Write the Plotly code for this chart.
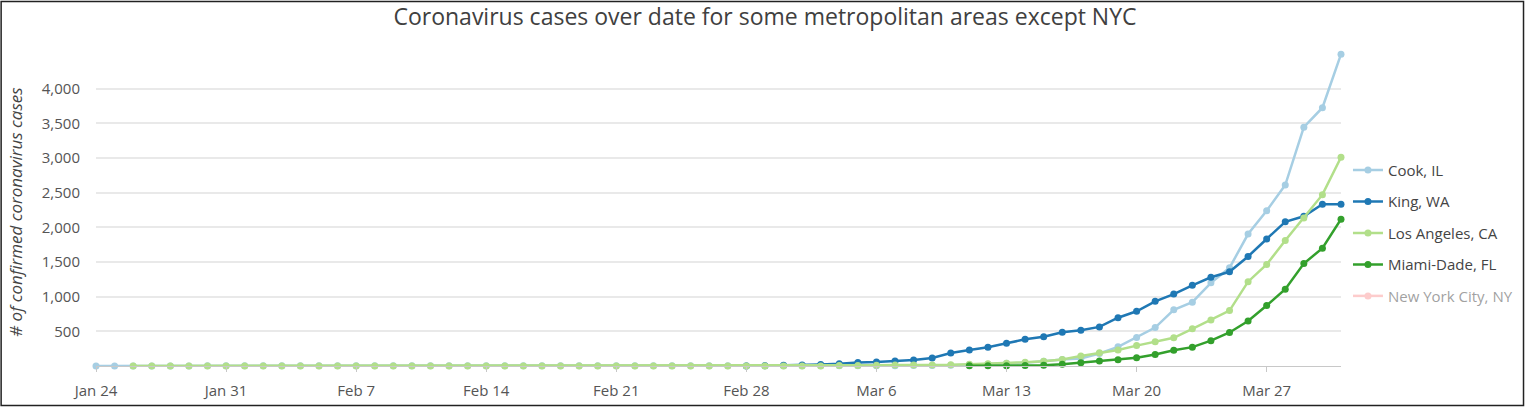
import pandas as pd
import plotly.graph_objects as go

dates = [d.strftime("%Y-%m-%d") for d in pd.date_range("2020-01-24", "2020-03-31")]

cook_il = ([1] * 6 + [2] * 30 + [3] +
           [3, 4, 4, 4, 5, 5, 5, 6, 7, 11, 17, 26, 40, 46, 68, 93, 107, 180, 276, 412,
            554, 810, 920, 1200, 1416, 1903, 2240, 2610, 3445, 3725, 4496])
king_wa = ([None] * 35 + [1, 4] +
           [10, 14, 21, 31, 51, 58, 71, 85, 116, 187, 230, 270, 327, 385, 422, 488, 515,
            564, 696, 790, 933, 1037, 1164, 1280, 1359, 1580, 1832, 2079, 2159, 2333, 2333])
los_angeles_ca = ([None] * 2 + [1] * 38 +
                  [7, 7, 11, 13, 14, 14, 17, 27, 32, 40, 53, 69, 94, 144, 190, 231, 294, 351,
                   407, 536, 662, 799, 1216, 1465, 1809, 2136, 2471, 3011])
miami_dade_fl = ([None] * 47 +
                 [2, 3, 4, 7, 12, 24, 48, 71, 90, 119, 166, 226, 272, 365, 483, 649, 872, 1108,
                  1477, 1700, 2116])
new_york_city_ny = ([None] * 37 +
                    [1, 1, 2, 2, 4, 5, 12, 14, 20, 36, 52, 95, 154, 269, 329, 463, 923, 2009,
                     3954, 5683, 8115, 9654, 12305, 14904, 20011, 23112, 25398, 29766, 32308,
                     36221, 41771])

series_names = ["Cook, IL", "King, WA", "Los Angeles, CA", "Miami-Dade, FL", "New York City, NY"]
series_values = [cook_il, king_wa, los_angeles_ca, miami_dade_fl, new_york_city_ny]
series_colors = ["#a6cee3", "#1f78b4", "#b2df8a", "#33a02c", "#fb9a99"]

x_tick_vals = ["2020-01-24", "2020-01-31", "2020-02-07", "2020-02-14", "2020-02-21",
               "2020-02-28", "2020-03-06", "2020-03-13", "2020-03-20", "2020-03-27"]
x_tick_text = ["Jan 24", "Jan 31", "Feb 7", "Feb 14", "Feb 21", "Feb 28",
               "Mar 6", "Mar 13", "Mar 20", "Mar 27"]
y_tick_vals = [500, 1000, 1500, 2000, 2500, 3000, 3500, 4000]

W, H = 1530, 412
ML, MR, MT, MB = 96, 184, 54, 41
PW, PH = W - ML - MR, H - MT - MB
FONT = "Open Sans"

fig = go.Figure()
for i, (name, vals, col) in enumerate(zip(series_names, series_values, series_colors)):
    fig.add_trace(go.Scatter(
        x=dates, y=vals, name=name, mode="lines+markers",
        line=dict(color=col, width=2.5),
        marker=dict(color=col, size=7),
        cliponaxis=False,
        legendgroup=name,
        visible="legendonly" if name.startswith("New York") else True,
    ))

fig.update_layout(
    width=W, height=H,
    margin=dict(l=ML, r=MR, t=MT, b=MB),
    paper_bgcolor="white", plot_bgcolor="white",
    font=dict(family=FONT, color="#555555", size=15),
    title=dict(text="Coronavirus cases over date for some metropolitan areas except NYC",
               x=0.5, xanchor="center", y=1 - 17 / H, yanchor="middle",
               font=dict(family=FONT, size=23, color="#404040")),
    showlegend=True,
    legend=dict(x=(1353 - ML) / PW, xanchor="left", y=(H - MB - 236) / PH, yanchor="middle",
                traceorder="grouped", tracegroupgap=9,
                font=dict(family=FONT, size=15, color="#444444"),
                bgcolor="rgba(0,0,0,0)"),
    xaxis=dict(type="date", range=["2020-01-24", "2020-03-31"],
               tickvals=x_tick_vals, ticktext=x_tick_text,
               showgrid=False, zeroline=False,
               showline=True, linecolor="#c8c8c8", linewidth=1,
               ticks="outside", ticklen=5, tickcolor="#c8c8c8",
               ticklabelstandoff=6,
               tickfont=dict(family=FONT, size=15, color="#555555")),
    yaxis=dict(range=[0, 4500], tickvals=y_tick_vals, tickformat=",d",
               showgrid=True, gridcolor="#e9e9e9", gridwidth=1.5,
               zeroline=False, showline=False,
               ticks="outside", ticklen=12, tickcolor="rgba(0,0,0,0)",
               tickfont=dict(family=FONT, size=15, color="#555555")),
    annotations=[dict(text="<i># of confirmed coronavirus cases</i>", textangle=-90,
                      xref="paper", yref="paper", x=(15 - ML) / PW, y=(H - MB - 215) / PH,
                      xanchor="center", yanchor="middle", showarrow=False,
                      font=dict(family=FONT, size=17, color="#444444"))],
    shapes=[dict(type="rect", xref="paper", yref="paper",
                 x0=(0.75 - ML) / PW, x1=(W - 0.75 - ML) / PW,
                 y0=(0.75 - MB) / PH, y1=(H - 0.75 - MB) / PH,
                 line=dict(color="#222222", width=1.5), layer="above")],
)

fig.write_html("out.html",
               config={"displayModeBar": False},
               post_script="document.body.style.margin='0';document.body.style.overflow='hidden';")
